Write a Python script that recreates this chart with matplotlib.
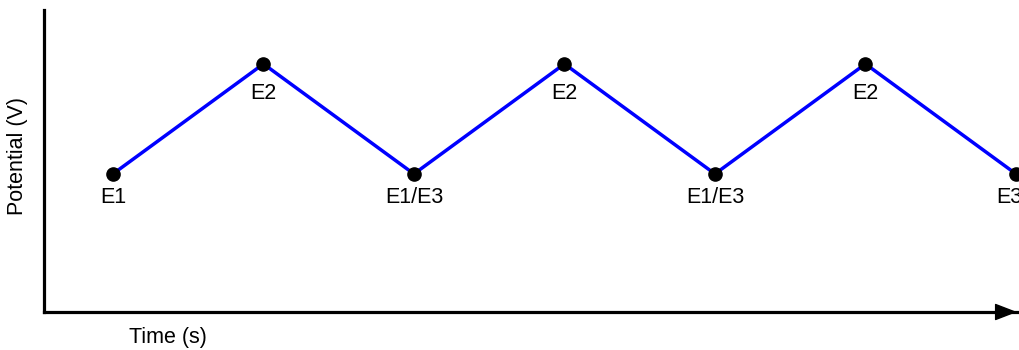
import numpy as np
import matplotlib.pyplot as plt

plt.rcParams['font.family'] = ['Liberation Sans', 'DejaVu Sans']

# 三角波扫描的各个顶点
time = [0, 1, 2, 3, 4, 5, 6]
potential = [0.2, 0.6, 0.2, 0.6, 0.2, 0.6, 0.2]
point_labels = ['E1', 'E2', 'E1/E3', 'E2', 'E1/E3', 'E2', 'E3']

fig = plt.figure(figsize=(10.2, 3.5), dpi=100)
W, H = 1020, 350
ax = fig.add_axes([44 / W, (H - 312) / H, (1017 - 44) / W, (312 - 10) / H])

ax.plot(time, potential, color='#0000ff', lw=2.5, zorder=2, clip_on=False)
ax.plot(time, potential, 'o', color='black', ms=9.5, zorder=3, clip_on=False)

for i, (t, p, lab) in enumerate(zip(time, potential, point_labels)):
    # 峰值处的标签离点稍远一些
    dy = -25 if p > 0.4 else -21
    dx = -5 if i == len(time) - 1 else 0
    ax.annotate(lab, (t, p), xytext=(dx, dy), textcoords='offset points',
                ha='center', va='baseline', fontsize=15.5, annotation_clip=False)

ax.set_xlim(-0.458, 6.007)
ax.set_ylim(-0.302, 0.796)

for s in ['top', 'right']:
    ax.spines[s].set_visible(False)
ax.spines['left'].set_linewidth(2.3)
ax.spines['bottom'].set_linewidth(2.3)
ax.set_xticks([])
ax.set_yticks([])

# x轴箭头
ax.annotate('', xy=(1.0, 0), xytext=(0.979, 0), xycoords='axes fraction',
            arrowprops=dict(arrowstyle='-|>,head_length=0.7,head_width=0.27',
                            color='black', lw=1, mutation_scale=20,
                            shrinkA=0, shrinkB=0))

fig.text(18 / W, 1 - 156 / H, 'Potential (V)', rotation=90,
         ha='center', va='center', fontsize=15.5)
fig.text(168 / W, 1 - 338 / H, 'Time (s)', ha='center', va='center', fontsize=15.5)

fig.savefig('out.png', dpi=100)
